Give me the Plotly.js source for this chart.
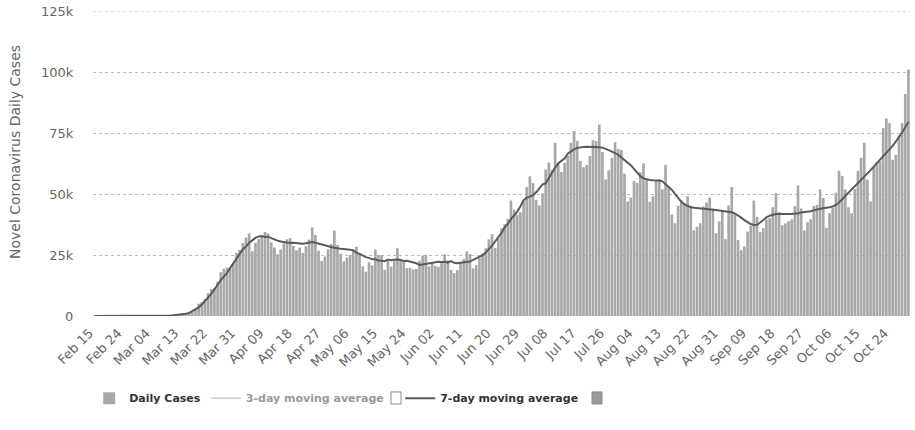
<!DOCTYPE html>
<html>
<head>
<meta charset="utf-8">
<script src="https://cdn.plot.ly/plotly-3.0.1.min.js"></script>
<style>html,body{margin:0;padding:0;background:#fff;}#chart{width:915px;height:430px;}</style>
</head>
<body>
<div id="chart"></div>
<script>
const categories = [
"Feb 15","Feb 16","Feb 17","Feb 18","Feb 19","Feb 20","Feb 21","Feb 22","Feb 23","Feb 24","Feb 25","Feb 26","Feb 27","Feb 28","Feb 29",
"Mar 01","Mar 02","Mar 03","Mar 04","Mar 05","Mar 06","Mar 07","Mar 08","Mar 09","Mar 10","Mar 11","Mar 12","Mar 13","Mar 14","Mar 15","Mar 16","Mar 17","Mar 18","Mar 19","Mar 20","Mar 21","Mar 22","Mar 23","Mar 24","Mar 25","Mar 26","Mar 27","Mar 28","Mar 29","Mar 30","Mar 31",
"Apr 01","Apr 02","Apr 03","Apr 04","Apr 05","Apr 06","Apr 07","Apr 08","Apr 09","Apr 10","Apr 11","Apr 12","Apr 13","Apr 14","Apr 15","Apr 16","Apr 17","Apr 18","Apr 19","Apr 20","Apr 21","Apr 22","Apr 23","Apr 24","Apr 25","Apr 26","Apr 27","Apr 28","Apr 29","Apr 30",
"May 01","May 02","May 03","May 04","May 05","May 06","May 07","May 08","May 09","May 10","May 11","May 12","May 13","May 14","May 15","May 16","May 17","May 18","May 19","May 20","May 21","May 22","May 23","May 24","May 25","May 26","May 27","May 28","May 29","May 30","May 31",
"Jun 01","Jun 02","Jun 03","Jun 04","Jun 05","Jun 06","Jun 07","Jun 08","Jun 09","Jun 10","Jun 11","Jun 12","Jun 13","Jun 14","Jun 15","Jun 16","Jun 17","Jun 18","Jun 19","Jun 20","Jun 21","Jun 22","Jun 23","Jun 24","Jun 25","Jun 26","Jun 27","Jun 28","Jun 29","Jun 30",
"Jul 01","Jul 02","Jul 03","Jul 04","Jul 05","Jul 06","Jul 07","Jul 08","Jul 09","Jul 10","Jul 11","Jul 12","Jul 13","Jul 14","Jul 15","Jul 16","Jul 17","Jul 18","Jul 19","Jul 20","Jul 21","Jul 22","Jul 23","Jul 24","Jul 25","Jul 26","Jul 27","Jul 28","Jul 29","Jul 30","Jul 31",
"Aug 01","Aug 02","Aug 03","Aug 04","Aug 05","Aug 06","Aug 07","Aug 08","Aug 09","Aug 10","Aug 11","Aug 12","Aug 13","Aug 14","Aug 15","Aug 16","Aug 17","Aug 18","Aug 19","Aug 20","Aug 21","Aug 22","Aug 23","Aug 24","Aug 25","Aug 26","Aug 27","Aug 28","Aug 29","Aug 30","Aug 31",
"Sep 01","Sep 02","Sep 03","Sep 04","Sep 05","Sep 06","Sep 07","Sep 08","Sep 09","Sep 10","Sep 11","Sep 12","Sep 13","Sep 14","Sep 15","Sep 16","Sep 17","Sep 18","Sep 19","Sep 20","Sep 21","Sep 22","Sep 23","Sep 24","Sep 25","Sep 26","Sep 27","Sep 28","Sep 29","Sep 30",
"Oct 01","Oct 02","Oct 03","Oct 04","Oct 05","Oct 06","Oct 07","Oct 08","Oct 09","Oct 10","Oct 11","Oct 12","Oct 13","Oct 14","Oct 15","Oct 16","Oct 17","Oct 18","Oct 19","Oct 20","Oct 21","Oct 22","Oct 23","Oct 24","Oct 25","Oct 26","Oct 27","Oct 28","Oct 29","Oct 30"
];

const dailyCases = [
0,0,0,0,0,0,2,0,0,18,0,4,2,1,8,
8,22,22,33,75,101,112,110,198,294,417,480,639,763,1000,1253,1728,2916,5041,5669,6934,9391,11090,11353,13986,17960,19379,19877,19465,21423,25832,
27080,29874,32133,33831,26543,30008,31497,32797,34424,33851,30153,28123,25281,27246,29741,31449,31945,28819,26898,28087,25854,28627,31293,36291,33209,26770,22541,24385,27327,29515,
35000,29078,25501,22335,23976,24972,27368,28369,25612,20329,18196,22048,20782,27246,25050,24994,18937,22630,20289,22552,27768,23285,22577,19608,19790,19064,19290,22658,24801,25069,20350,
22153,20578,20155,21882,25337,22836,18905,17598,18822,21704,23300,26500,25447,19543,20837,23700,25559,27762,31471,33539,27928,31794,36015,37667,39818,47341,43581,41556,42528,47010,
52898,57236,54442,47544,45282,50304,60021,62918,59886,71000,62546,58982,62687,65716,71000,75821,71787,63584,60981,61794,65541,72048,71675,78500,67211,55945,59692,64805,71281,68487,68040,
58361,46935,48501,55305,54519,58921,62538,56174,46804,49060,55701,56023,51926,62000,53212,41542,37977,45209,47408,46408,49120,45231,35112,36577,37981,44895,46474,48500,43987,33947,38740,
43201,31485,45267,52860,42196,31085,27000,28500,34567,36995,47318,40633,34355,35997,39590,40092,44564,50418,42617,37185,38000,38894,39627,45014,53500,44009,35045,38437,39617,45112,
45519,51877,48380,36150,42185,44282,50528,59500,57410,51864,44571,42045,52015,59512,64858,70954,55875,46941,61043,63219,63360,77000,81000,79000,64000,66000,74000,79000,91000,101000
];

const sevenDayAvg = [
0,0,0,0,0,0,0,0,3,3,3,4,4,5,6,
10,14,24,38,53,68,93,132,187,245,321,414,542,692,897,1254,1906,2624,3506,4705,6110,7485,9066,10912,12870,14719,16159,17635,19703,21574,23276,
25100,27300,28500,30000,31000,32000,32600,32800,32400,32500,31900,31300,30900,30500,30200,30000,29900,30000,29800,29700,29600,29800,30200,30300,30000,29600,29200,28900,28600,28300,
28000,27700,27600,27500,27400,27197,26890,25943,25448,24709,24117,23842,23243,23226,22752,22664,22465,23098,22847,23100,23174,22922,22577,22673,22267,22092,21626,20896,21113,21469,21575,
21912,22128,22252,22141,22218,21899,22500,21800,21600,21800,22000,22200,22308,23004,23555,24193,24903,26059,27257,28822,30581,32311,34033,36300,37735,39682,41215,42786,44962,47450,
48464,49031,49563,50674,52532,53964,54342,56708,58851,60808,62577,63391,64545,66500,67500,68300,68900,69200,69300,69400,69400,69300,69300,69200,69000,68600,68000,67400,66700,66100,65000,
64000,63100,61800,60300,58800,57300,56400,55900,55700,55600,55600,55500,55200,54200,52900,51700,50000,48300,46800,45700,45000,44600,44400,44300,44200,44000,43800,43700,43600,43400,43200,
43100,42900,42700,42500,42000,41300,40300,39300,38400,37700,37300,37400,38300,39400,40400,41100,41600,41800,41800,41900,41900,41800,41800,41800,42100,42400,42500,42700,42900,43300,
43800,44000,44200,44300,44600,44900,45500,46500,47800,49000,50300,51600,52900,54200,55600,57000,58400,59800,61200,62600,64000,65300,66600,68000,69700,71500,73200,75200,77400,79500
];

// hidden series (shown only as a greyed legend entry, as in the reference)
const threeDayAvgX = ["Feb 15"];
const threeDayAvgY = [0];

const xTickLabels = ["Feb 15","Feb 24","Mar 04","Mar 13","Mar 22","Mar 31","Apr 09","Apr 18","Apr 27","May 06","May 15","May 24","Jun 02","Jun 11","Jun 20","Jun 29","Jul 08","Jul 17","Jul 26","Aug 04","Aug 13","Aug 22","Aug 31","Sep 09","Sep 18","Sep 27","Oct 06","Oct 15","Oct 24"];
const yTickVals = [0,25000,50000,75000,100000,125000];
const yTickLabels = ["0","25k","50k","75k","100k","125k"];

const FONT = "DejaVu Sans, Verdana, sans-serif";

const traces = [
  {type:"bar", name:"Daily Cases", x:categories, y:dailyCases,
   marker:{color:"#a8a8a8", line:{width:0}}},
  {type:"scatter", mode:"lines", name:"3-day moving average\u00a0\u00a0\u00a0", x:threeDayAvgX, y:threeDayAvgY,
   visible:"legendonly", line:{color:"#999", width:1.5}},
  {type:"scatter", mode:"lines", name:"7-day moving average", x:categories, y:sevenDayAvg,
   line:{color:"#5a5a5a", width:2}}
];

const gridDot = {color:"#bbb", width:1, dash:"dot"};

const layout = {
  width:915, height:430,
  margin:{l:93, r:5, t:11, b:114},
  paper_bgcolor:"#fff", plot_bgcolor:"#fff",
  font:{family:FONT, color:"#666", size:12},
  bargap:0.15,
  showlegend:true,
  legend:{orientation:"h", xref:"container", yref:"container", x:0.0975, y:0.074,
    xanchor:"left", yanchor:"middle", bgcolor:"rgba(0,0,0,0)",
    font:{family:FONT, size:11, color:"#333", weight:"bold"},
    itemclick:false, itemdoubleclick:false},
  xaxis:{type:"category", tickmode:"array", tickvals:xTickLabels, ticktext:xTickLabels,
    tickangle:-45, tickfont:{size:13, color:"#666"}, showgrid:false, zeroline:false,
    showline:false, ticks:"", ticklabelstandoff:6, ticklabelshift:-5,
    range:[-0.5, categories.length-0.5]},
  yaxis:{range:[0,125000], tickmode:"array", tickvals:yTickVals, ticktext:yTickLabels,
    tickfont:{size:13, color:"#666"}, showgrid:true, gridcolor:"#bbb", griddash:"dot",
    gridwidth:1, zeroline:false, showline:false, ticks:"outside", ticklen:16,
    tickcolor:"rgba(0,0,0,0)"},
  annotations:[
    {text:"Novel Coronavirus Daily Cases", xref:"paper", yref:"paper",
     x:-(93-15)/817, y:(316-152)/305, xanchor:"center", yanchor:"middle",
     textangle:-90, showarrow:false, font:{family:FONT, size:14, color:"#666"}}
  ],
  shapes:[
    {type:"line", xref:"paper", yref:"y", x0:0, x1:1, y0:0, y1:0, line:gridDot, layer:"below"},
    {type:"line", xref:"paper", yref:"y", x0:0, x1:1, y0:125000, y1:125000, line:gridDot, layer:"below"},
    {type:"rect", xref:"paper", yref:"paper", x0:0.3647, x1:0.3770, y0:-0.2885, y1:-0.249,
     line:{color:"#888", width:1}, fillcolor:"#fff"},
    {type:"rect", xref:"paper", yref:"paper", x0:0.6108, x1:0.623, y0:-0.2885, y1:-0.249,
     line:{color:"#888", width:1}, fillcolor:"#999"}
  ]
};

Plotly.newPlot("chart", traces, layout, {displayModeBar:false, staticPlot:true});
</script>
</body>
</html>
